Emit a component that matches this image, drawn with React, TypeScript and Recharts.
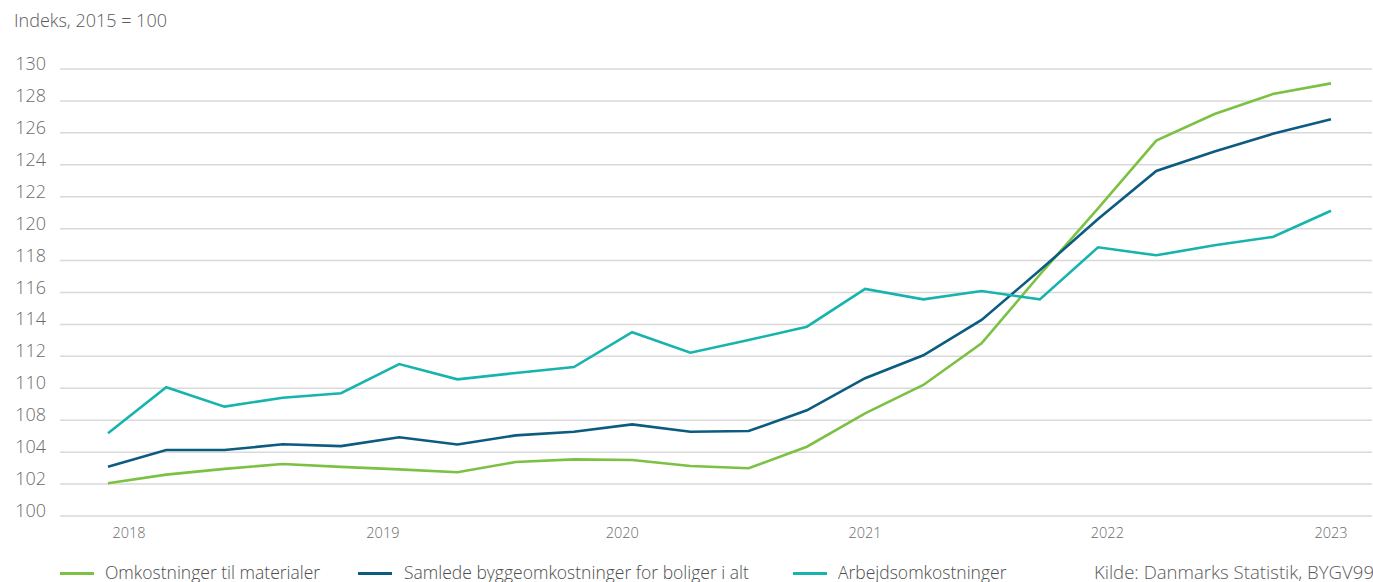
import React from 'react';
import { LineChart, Line, XAxis, YAxis, CartesianGrid } from 'recharts';

// Quarters (categories), 2017K4 .. 2023K1
const quarters = [
  '2017K4', '2018K1', '2018K2', '2018K3', '2018K4',
  '2019K1', '2019K2', '2019K3', '2019K4',
  '2020K1', '2020K2', '2020K3', '2020K4',
  '2021K1', '2021K2', '2021K3', '2021K4',
  '2022K1', '2022K2', '2022K3', '2022K4',
  '2023K1',
];

// Series values (index, 2015 = 100)
const materialer = [104.05, 104.59, 104.95, 105.26, 105.08, 104.92, 104.74, 105.38, 105.55, 105.51, 105.13, 104.99, 106.34, 108.43, 110.21, 112.82, 117.11, 121.27, 125.51, 127.18, 128.43, 129.1];
const samlede = [105.09, 106.13, 106.13, 106.49, 106.38, 106.93, 106.48, 107.05, 107.28, 107.74, 107.28, 107.32, 108.62, 110.63, 112.07, 114.28, 117.39, 120.6, 123.61, 124.83, 125.94, 126.85];
const arbejds = [107.18, 110.06, 108.85, 109.41, 109.69, 111.52, 110.56, 110.96, 111.33, 113.51, 112.23, 113.02, 113.86, 116.22, 115.57, 116.09, 115.57, 118.83, 118.33, 118.96, 119.48, 121.12];

// Y ticks and the labels printed next to them (as in the original)
const yTicks = [102, 104, 106, 108, 110, 112, 114, 116, 118, 120, 122, 124, 126, 128, 130];
const yTickLabels = ['100', '102', '104', '108', '110', '112', '114', '116', '118', '120', '122', '124', '126', '128', '130'];

// X year labels and where they sit on the quarter index axis
const yearLabels = ['2018', '2019', '2020', '2021', '2022', '2023'];
const yearTickPos = [0.36, 4.72, 8.83, 13, 17.16, 21];

const series = [
  { key: 'materialer', name: 'Omkostninger til materialer', color: '#7cc143', values: materialer },
  { key: 'samlede', name: 'Samlede byggeomkostninger for boliger i alt', color: '#0c5b80', values: samlede },
  { key: 'arbejds', name: 'Arbejdsomkostninger', color: '#17b4ae', values: arbejds },
];

const data = quarters.map((q, i) => ({
  i,
  q,
  materialer: materialer[i],
  samlede: samlede[i],
  arbejds: arbejds[i],
}));

const FONT = '"Open Sans", "Noto Sans", sans-serif';

const YTick = (props: any) => {
  const { x, y, payload } = props;
  const idx = yTicks.indexOf(payload.value);
  return (
    <text x={x} y={y + 1} textAnchor="end" fill="#6b6b6b" fontFamily={FONT} fontWeight={300} fontSize={18}>
      {idx >= 0 ? yTickLabels[idx] : payload.value}
    </text>
  );
};

const XTick = (props: any) => {
  const { x, y, payload } = props;
  const idx = yearTickPos.indexOf(payload.value);
  return (
    <text x={x} y={y + 22} textAnchor="middle" fill="#6b6b6b" fontFamily={FONT} fontWeight={300} fontSize={14.5}>
      {idx >= 0 ? yearLabels[idx] : ''}
    </text>
  );
};

const legendPos = [
  { line: 60, text: 105 },
  { line: 358, text: 404 },
  { line: 793, text: 838 },
];

export default function App() {
  return (
    <div style={{ position: 'absolute', left: 0, top: 0, width: 1373, height: 582, background: '#fff' }}>
      <LineChart
        width={1373}
        height={582}
        data={data}
        margin={{ top: 69, right: 1, left: 0, bottom: 0 }}
      >
        <CartesianGrid vertical={false} stroke="#d9d9d9" strokeWidth={1.5} />
        <XAxis
          dataKey="i"
          type="number"
          domain={[0, 21]}
          ticks={yearTickPos}
          padding={{ left: 48, right: 41 }}
          height={66}
          axisLine={false}
          tickLine={false}
          tickSize={0}
          tickMargin={0}
          interval={0}
          tick={<XTick />}
        />
        <YAxis
          type="number"
          domain={[102, 130]}
          ticks={yTicks}
          width={60}
          axisLine={false}
          tickLine={false}
          tickSize={0}
          tickMargin={14}
          interval={0}
          tick={<YTick />}
        />
        {series.map((s) => (
          <Line
            key={s.key}
            dataKey={s.key}
            type="linear"
            stroke={s.color}
            strokeWidth={2.6}
            dot={false}
            activeDot={false}
            isAnimationActive={false}
          />
        ))}
      </LineChart>
      <svg
        width={1373}
        height={582}
        style={{ position: 'absolute', left: 0, top: 0, pointerEvents: 'none' }}
      >
        <text x={14} y={26.5} fill="#5a5a5a" fontFamily={FONT} fontWeight={300} fontSize={18}>
          Indeks, 2015 = 100
        </text>
        {series.map((s, i) => (
          <g key={s.key}>
            <line x1={legendPos[i].line} x2={legendPos[i].line + 34} y1={573.5} y2={573.5} stroke={s.color} strokeWidth={3} />
            <text x={legendPos[i].text} y={578.5} fill="#4d4d4d" fontFamily={FONT} fontWeight={300} fontSize={17.5}>
              {s.name}
            </text>
          </g>
        ))}
        <text x={1374} y={578.5} textAnchor="end" fill="#5a5a5a" fontFamily={FONT} fontWeight={300} fontSize={18.6}>
          Kilde: Danmarks Statistik, BYGV99
        </text>
      </svg>
    </div>
  );
}
